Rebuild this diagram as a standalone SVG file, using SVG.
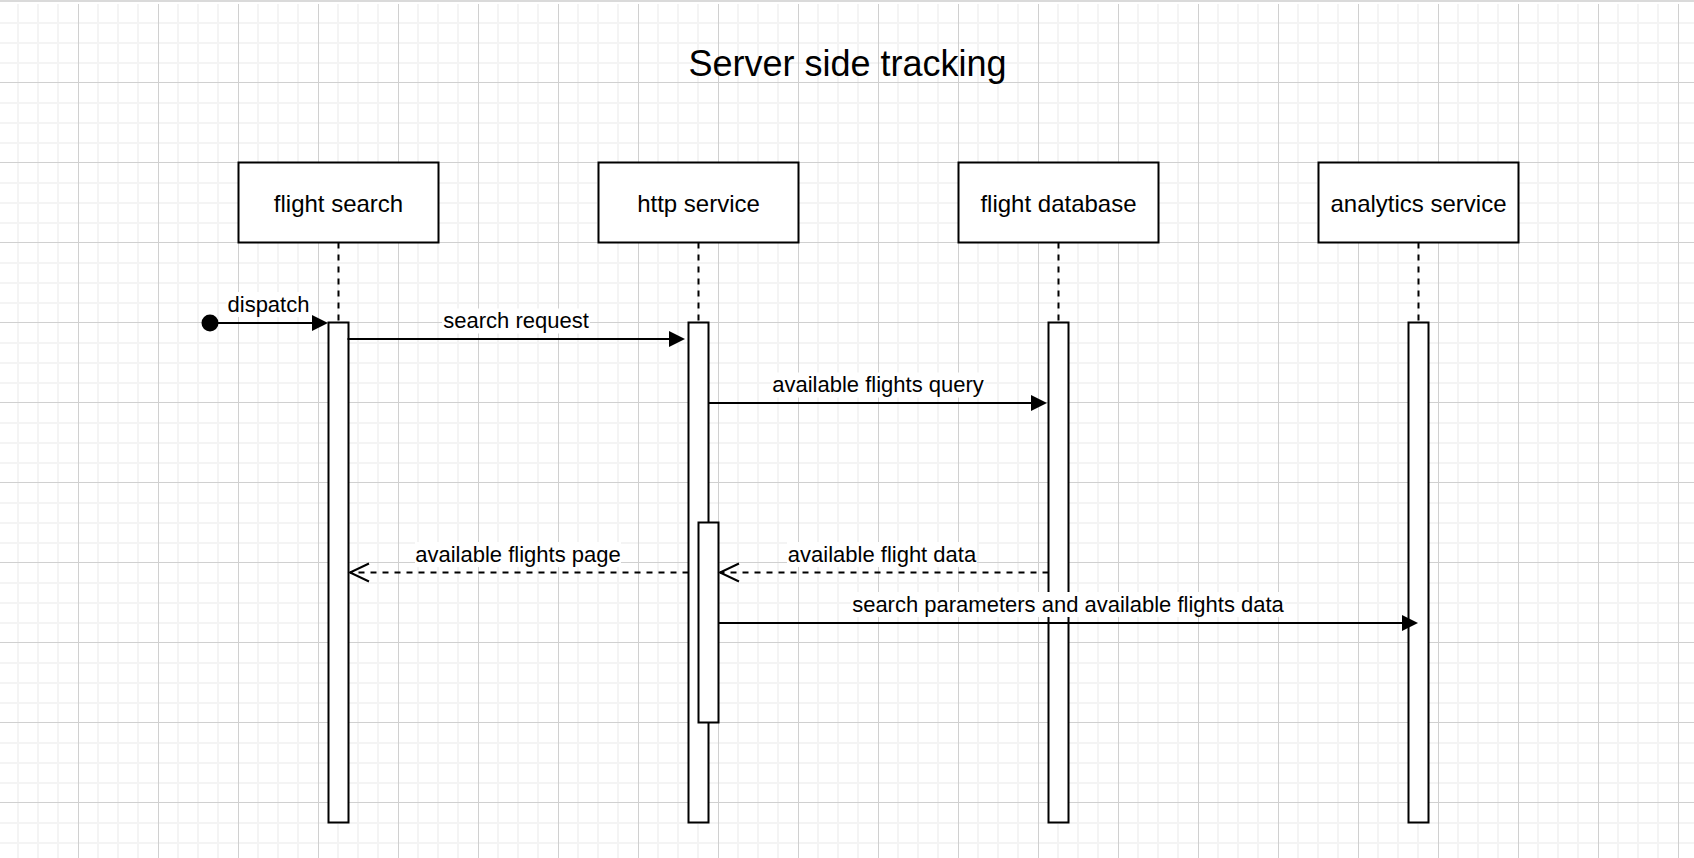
<svg xmlns="http://www.w3.org/2000/svg" width="1694" height="858" viewBox="0 0 1694 858">
<defs>
<style>
.box{fill:#fff;stroke:#000;stroke-width:2}
.act{fill:#fff;stroke:#000;stroke-width:2}
.life{stroke:#000;stroke-width:2;stroke-dasharray:6 6;fill:none}
.msg{stroke:#000;stroke-width:2;fill:none}
.ret{stroke:#000;stroke-width:2;fill:none;stroke-dasharray:6 6}
.t{font-family:"Liberation Sans",Arial,Helvetica,sans-serif;fill:#000;text-anchor:middle}
.lbl{font-size:22px}
.nl{font-size:24px}
.title{font-size:36px}
.bg{fill:#fff}
</style>
<pattern id="grid" x="-2" y="2" width="80" height="80" patternUnits="userSpaceOnUse">
<rect width="80" height="80" fill="#fff"/>
<rect x="19" y="0" width="2" height="80" fill="#f4f4f4"/>
<rect x="39" y="0" width="2" height="80" fill="#f4f4f4"/>
<rect x="59" y="0" width="2" height="80" fill="#f4f4f4"/>
<rect x="0" y="20" width="80" height="2" fill="#f4f4f4"/>
<rect x="0" y="40" width="80" height="2" fill="#f4f4f4"/>
<rect x="0" y="60" width="80" height="2" fill="#f4f4f4"/>
<rect x="0" y="0" width="1" height="80" fill="#d0d0d0"/>
<rect x="0" y="0" width="80" height="1" fill="#d0d0d0"/>
</pattern>
<marker id="block" markerUnits="userSpaceOnUse" markerWidth="16" markerHeight="16" refX="6" refY="8" orient="auto" viewBox="0 0 16 16" overflow="visible">
<path d="M0,0 L16,8 L0,16 z" fill="#000"/>
</marker>
<marker id="open" markerUnits="userSpaceOnUse" markerWidth="22" markerHeight="20" refX="20" refY="10" orient="auto" viewBox="0 0 22 20" overflow="visible">
<path d="M1,1 L20,10 L1,19" fill="none" stroke="#000" stroke-width="2"/>
</marker>
</defs>

<rect x="0" y="0" width="1694" height="858" fill="#fff"/>
<rect x="0" y="4" width="1694" height="854" fill="url(#grid)"/>
<rect x="0" y="0" width="1694" height="2" fill="#dadada"/>

<g id="title">
<text class="t title" x="847.5" y="76">Server side tracking</text>
</g>

<g id="node-flight-search">
<rect class="box" x="238.5" y="162.5" width="200" height="80"/>
<text class="t nl" x="338.5" y="212">flight search</text>
<line class="life" x1="338.5" y1="242.5" x2="338.5" y2="322.5"/>
<rect class="act" x="328.5" y="322.5" width="20" height="500"/>
</g>

<g id="node-http-service">
<rect class="box" x="598.5" y="162.5" width="200" height="80"/>
<text class="t nl" x="698.5" y="212">http service</text>
<line class="life" x1="698.5" y1="242.5" x2="698.5" y2="322.5"/>
<rect class="act" x="688.5" y="322.5" width="20" height="500"/>
<rect class="act" x="698.5" y="522.5" width="20" height="200"/>
</g>

<g id="node-flight-database">
<rect class="box" x="958.5" y="162.5" width="200" height="80"/>
<text class="t nl" x="1058.5" y="212">flight database</text>
<line class="life" x1="1058.5" y1="242.5" x2="1058.5" y2="322.5"/>
<rect class="act" x="1048.5" y="322.5" width="20" height="500"/>
</g>

<g id="node-analytics-service">
<rect class="box" x="1318.5" y="162.5" width="200" height="80"/>
<text class="t nl" x="1418.5" y="212">analytics service</text>
<line class="life" x1="1418.5" y1="242.5" x2="1418.5" y2="322.5"/>
<rect class="act" x="1408.5" y="322.5" width="20" height="500"/>
</g>

<g id="connectors">
<g id="edge-dispatch">
<circle cx="210" cy="323" r="8.5" fill="#000"/>
<line class="msg" x1="210" y1="323" x2="318" y2="323" marker-end="url(#block)"/>
<rect class="bg" x="226.5" y="292" width="84" height="25"/>
<text class="t lbl" x="268.5" y="311.5">dispatch</text>
</g>
<g id="edge-search-request">
<line class="msg" x1="347.5" y1="339" x2="675" y2="339" marker-end="url(#block)"/>
<rect class="bg" x="442" y="308.5" width="148" height="25"/>
<text class="t lbl" x="516" y="328">search request</text>
</g>
<g id="edge-available-flights-query">
<line class="msg" x1="708.5" y1="403" x2="1037" y2="403" marker-end="url(#block)"/>
<rect class="bg" x="771.5" y="372.5" width="213" height="25"/>
<text class="t lbl" x="878" y="392">available flights query</text>
</g>
<g id="edge-available-flight-data">
<line class="ret" x1="1048.5" y1="572.5" x2="720" y2="572.5" marker-end="url(#open)"/>
<rect class="bg" x="787" y="542" width="190" height="25"/>
<text class="t lbl" x="882" y="561.5">available flight data</text>
</g>
<g id="edge-available-flights-page">
<line class="ret" x1="688.5" y1="572.5" x2="350" y2="572.5" marker-end="url(#open)"/>
<rect class="bg" x="415" y="542" width="206" height="25"/>
<text class="t lbl" x="518" y="561.5">available flights page</text>
</g>
<g id="edge-search-parameters">
<line class="msg" x1="718.5" y1="623" x2="1408" y2="623" marker-end="url(#block)"/>
<rect class="bg" x="851" y="592" width="434" height="25"/>
<text class="t lbl" x="1068" y="611.5">search parameters and available flights data</text>
</g>
</g>
</svg>
